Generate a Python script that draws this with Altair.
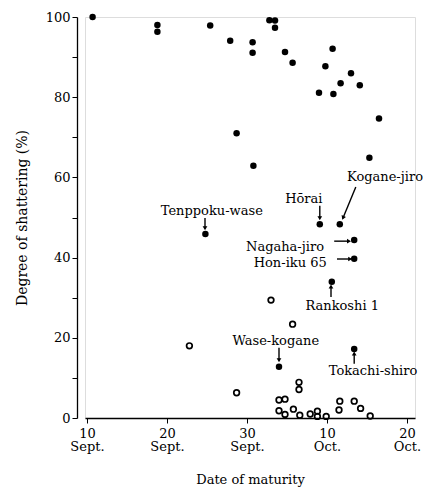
import altair as alt
import pandas as pd

# x = day counted from 1 September (10 Oct = 40), y = degree of shattering (%)
filled_x = [10.7, 18.8, 18.8, 25.4, 27.9, 30.7, 30.7, 32.8, 33.5, 33.5, 34.75, 35.7,
            39.0, 39.8, 40.7, 40.8, 41.7, 43.0, 44.1, 46.5, 45.3, 28.7, 30.8]
filled_y = [100, 98.0, 96.3, 97.9, 94.1, 93.7, 91.1, 99.2, 99.1, 97.3, 91.3, 88.6,
            81.1, 87.7, 92.1, 80.8, 83.5, 86.0, 83.0, 74.7, 64.9, 71.0, 62.9]

named = ["Tenppoku-wase", "Hōrai", "Kogane-jiro", "Nagaha-jiro", "Hon-iku 65",
         "Rankoshi 1", "Wase-kogane", "Tokachi-shiro"]
named_x = [24.8, 39.1, 41.6, 43.4, 43.4, 40.6, 34.0, 43.4]
named_y = [45.9, 48.3, 48.3, 44.4, 39.7, 34.0, 12.8, 17.2]

open_x = [33.0, 35.7, 22.8, 28.7, 34.0, 34.75, 34.0, 34.75, 35.8, 36.5, 36.5, 36.6,
          37.9, 38.8, 38.8, 39.9, 41.6, 41.5, 43.4, 44.2, 45.4]
open_y = [29.4, 23.4, 18.0, 6.3, 4.5, 4.7, 1.8, 0.9, 2.2, 8.9, 7.1, 0.7,
          1.0, 1.7, 0.4, 0.4, 4.2, 2.0, 4.2, 2.4, 0.5]

# annotation text anchor and arrow (start -> end), in data units
label_x = [25.6, 37.1, 47.25, 34.75, 35.4, 41.9, 33.6, 45.75]
label_y = [51.6, 54.6, 60.1, 42.6, 38.7, 27.9, 19.2, 11.7]
arrow_x0 = [24.75, 39.1, 43.6, 40.9, 41.25, 40.5, 34.0, 43.4]
arrow_y0 = [49.9, 52.9, 57.6, 44.1, 39.65, 30.2, 17.5, 13.5]
arrow_x1 = [24.75, 39.1, 42.0, 42.75, 42.9, 40.5, 34.0, 43.4]
arrow_y1 = [47.3, 49.8, 49.9, 44.1, 39.65, 32.8, 14.4, 16.1]
arrow_angle = [180, 180, 203, 90, 90, 0, 180, 0]

tick_days = [10, 20, 30, 40, 50]

FONT = "DejaVu Serif"

pts_f = pd.DataFrame({"x": filled_x + named_x, "y": filled_y + named_y})
pts_o = pd.DataFrame({"x": open_x, "y": open_y})
ann = pd.DataFrame({"label": named, "lx": label_x, "ly": label_y,
                    "x0": arrow_x0, "y0": arrow_y0, "x1": arrow_x1, "y1": arrow_y1,
                    "ang": arrow_angle})

xscale = alt.Scale(domain=[9.75, 51], nice=False, zero=False)
yscale = alt.Scale(domain=[0, 100], nice=False)

xax = alt.Axis(values=tick_days, title="Date of maturity",
               labelExpr="datum.value <= 30 ? [format(datum.value, 'd'), 'Sept.'] : [format(datum.value - 30, 'd'), 'Oct.']",
               grid=False, tickSize=5, labelFontSize=13, labelFont=FONT, labelColor="black",
               titleFont=FONT, titleFontSize=13, titleFontWeight="normal", titleColor="black",
               titlePadding=20, domainColor="black", tickColor="black", domainWidth=1.3,
               labelPadding=4, labelLineHeight=13)
yax = alt.Axis(values=list(range(0, 101, 10)), title="Degree of shattering (%)",
               labelExpr="datum.value % 20 == 0 ? datum.label : ''",
               grid=False, tickSize=5, offset=8, labelFontSize=13, labelFont=FONT,
               labelColor="black", titleFont=FONT, titleFontSize=14,
               titleFontWeight="normal", titleColor="black", titlePadding=16,
               domainColor="black", tickColor="black", domainWidth=1.3, labelPadding=2)

base_f = alt.Chart(pts_f).mark_circle(size=42, color="black", opacity=1).encode(
    x=alt.X("x:Q", scale=xscale, axis=xax),
    y=alt.Y("y:Q", scale=yscale, axis=yax),
)
base_o = alt.Chart(pts_o).mark_point(size=32, color="black", strokeWidth=1.7,
                                     filled=False, opacity=1).encode(
    x=alt.X("x:Q", scale=xscale), y=alt.Y("y:Q", scale=yscale))

rules = alt.Chart(ann).mark_rule(color="black", strokeWidth=1.4).encode(
    x=alt.X("x0:Q", scale=xscale), y=alt.Y("y0:Q", scale=yscale),
    x2="x1:Q", y2="y1:Q")
heads = alt.Chart(ann).mark_point(shape="triangle-up", filled=True, color="black",
                                  size=22, opacity=1).encode(
    x=alt.X("x1:Q", scale=xscale), y=alt.Y("y1:Q", scale=yscale),
    angle=alt.Angle("ang:Q", scale=None))
texts = alt.Chart(ann).mark_text(font=FONT, fontSize=13, color="black",
                                 align="center", baseline="middle").encode(
    x=alt.X("lx:Q", scale=xscale), y=alt.Y("ly:Q", scale=yscale), text="label:N")

chart = alt.layer(base_f, base_o, rules, heads, texts).properties(
    width=330, height=401,
    autosize=alt.AutoSizeParams(type="none"),
    padding={"left": 77, "top": 9, "right": 8, "bottom": 74},
).configure_view(stroke=None).configure(background="white")

chart.save("out.html", embed_options={"renderer": "svg", "actions": False})
